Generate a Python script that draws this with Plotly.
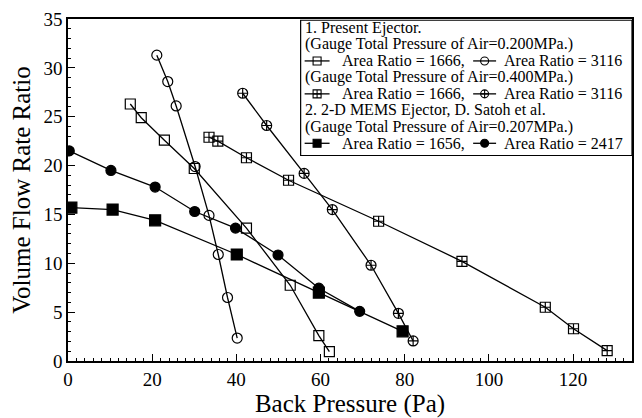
import plotly.graph_objects as go

# ---- data ----
# Present ejector, 0.200 MPa, area ratio 1666 (open squares)
p200_1666_x = [14.8, 17.4, 22.9, 30.0, 42.4, 52.8, 59.6, 62.1]
p200_1666_y = [26.3, 24.9, 22.6, 19.7, 13.6, 7.75, 2.6, 0.96]
# Present ejector, 0.200 MPa, area ratio 3116 (open circles)
p200_3116_x = [21.1, 23.7, 25.7, 30.2, 33.5, 35.7, 37.9, 40.2]
p200_3116_y = [31.3, 28.6, 26.1, 19.9, 14.9, 10.9, 6.5, 2.35]
# Present ejector, 0.400 MPa, area ratio 1666 (squares with cross)
p400_1666_x = [33.5, 35.6, 42.4, 52.4, 73.8, 93.6, 113.4, 120.1, 128.1]
p400_1666_y = [22.9, 22.5, 20.8, 18.5, 14.3, 10.2, 5.5, 3.3, 1.06]
# Present ejector, 0.400 MPa, area ratio 3116 (circles with cross)
p400_3116_x = [41.5, 47.2, 56.1, 62.8, 72.0, 78.5, 82.0]
p400_3116_y = [27.4, 24.1, 19.2, 15.5, 9.8, 4.88, 2.05]
# Satoh et al., 0.207 MPa, area ratio 1656 (filled squares)
s207_1656_x = [0.8, 10.6, 20.7, 40.1, 59.6, 79.5]
s207_1656_y = [15.7, 15.5, 14.4, 10.9, 7.0, 3.04]
# Satoh et al., 0.207 MPa, area ratio 2417 (filled circles)
s207_2417_x = [0.3, 10.2, 20.7, 30.1, 39.8, 49.9, 59.6, 69.3]
s207_2417_y = [21.5, 19.5, 17.8, 15.3, 13.6, 10.85, 7.45, 5.08]

x_ticks = [0, 20, 40, 60, 80, 100, 120]
y_ticks = [0, 5, 10, 15, 20, 25, 30, 35]

legend_lines = [
    "1. Present Ejector.",
    "(Gauge Total Pressure of Air=0.200MPa.)",
    None,
    "(Gauge Total Pressure of Air=0.400MPa.)",
    None,
    "2. 2-D MEMS Ejector, D. Satoh et al.",
    "(Gauge Total Pressure of Air=0.207MPa.)",
    None,
]
legend_pairs = [
    (2, "square-open", "Area Ratio = 1666,", "circle-open", "Area Ratio = 3116"),
    (4, "square-cross-open", "Area Ratio = 1666,", "circle-cross-open", "Area Ratio = 3116"),
    (7, "square", "Area Ratio = 1656,", "circle", "Area Ratio = 2417"),
]

FONT = "Liberation Serif"
W, H = 642, 418
L, R, T, B = 67.7, 8.7, 15.7, 48.3

fig = go.Figure()

series = [
    (p200_1666_x, p200_1666_y, "square-open", 10),
    (p200_3116_x, p200_3116_y, "circle-open", 10),
    (p400_1666_x, p400_1666_y, "square-cross-open", 10),
    (p400_3116_x, p400_3116_y, "circle-cross-open", 10),
    (s207_1656_x, s207_1656_y, "square", 11),
    (s207_2417_x, s207_2417_y, "circle", 10),
]
for xs, ys, sym, sz in series:
    fig.add_trace(go.Scatter(
        x=xs, y=ys, mode="lines+markers",
        line=dict(color="black", width=1.3),
        marker=dict(symbol=sym, size=sz, color="black",
                    line=dict(color="black", width=1.2)),
        showlegend=False, hoverinfo="skip"))

# ---- legend (drawn on a pixel overlay axis) ----
x0p, x1p = L, W - R
y0p, y1p = T, H - B
line_y = [25 + 17.05 * i for i in range(8)]
annots = []
for i, txt in enumerate(legend_lines):
    if txt:
        annots.append(dict(x=303, y=line_y[i], xref="x2", yref="y2", text=txt,
                           showarrow=False, xanchor="left", yanchor="middle",
                           font=dict(family=FONT, size=16, color="black")))
for row, s1, t1, s2, t2 in legend_pairs:
    yy = line_y[row]
    for (xa, xb, xm, sym, tx, txx) in [(305, 330, 317.5, s1, t1, 340), (474, 497, 485.5, s2, t2, 503)]:
        fig.add_trace(go.Scatter(x=[xa, xb], y=[yy, yy], xaxis="x2", yaxis="y2",
                                 mode="lines", line=dict(color="black", width=1.3),
                                 showlegend=False, hoverinfo="skip"))
        fig.add_trace(go.Scatter(x=[xm], y=[yy], xaxis="x2", yaxis="y2",
                                 mode="markers",
                                 marker=dict(symbol=sym, size=8, color="black",
                                             line=dict(color="black", width=1.1)),
                                 showlegend=False, hoverinfo="skip"))
        annots.append(dict(x=txx, y=yy, xref="x2", yref="y2", text=tx,
                           showarrow=False, xanchor="left", yanchor="middle",
                           font=dict(family=FONT, size=16, color="black")))

fig.add_shape(type="rect", xref="x2", yref="y2", x0=301, x1=633.3, y0=17, y1=157,
              line=dict(color="black", width=1.2), fillcolor="white", layer="below")

axis_common = dict(showgrid=False, zeroline=False, showline=True, linecolor="black",
                   linewidth=1.5, mirror=True, ticks="inside", ticklen=7, tickwidth=1,
                   tickcolor="black",
                   tickfont=dict(family=FONT, size=19, color="black"))

fig.update_layout(
    width=W, height=H,
    margin=dict(l=L, r=R, t=T, b=B, pad=0),
    paper_bgcolor="white", plot_bgcolor="white",
    font=dict(family=FONT, color="black"),
    xaxis=dict(range=[0, 134], tickvals=x_ticks,
               minor=dict(dtick=2, ticks="inside", ticklen=3.5, tickcolor="black", tickwidth=1),
               title=dict(text="Back Pressure (Pa)", font=dict(family=FONT, size=25), standoff=2),
               **axis_common),
    yaxis=dict(range=[0, 35], tickvals=y_ticks,
               minor=dict(dtick=1, ticks="inside", ticklen=3.5, tickcolor="black", tickwidth=1),
               title=dict(text="Volume Flow Rate Ratio", font=dict(family=FONT, size=25), standoff=6),
               **axis_common),
    xaxis2=dict(overlaying="x", range=[x0p, x1p], visible=False, fixedrange=True),
    yaxis2=dict(overlaying="y", range=[y1p, y0p], visible=False, fixedrange=True),
    annotations=annots,
)

fig.write_html("out.html")
